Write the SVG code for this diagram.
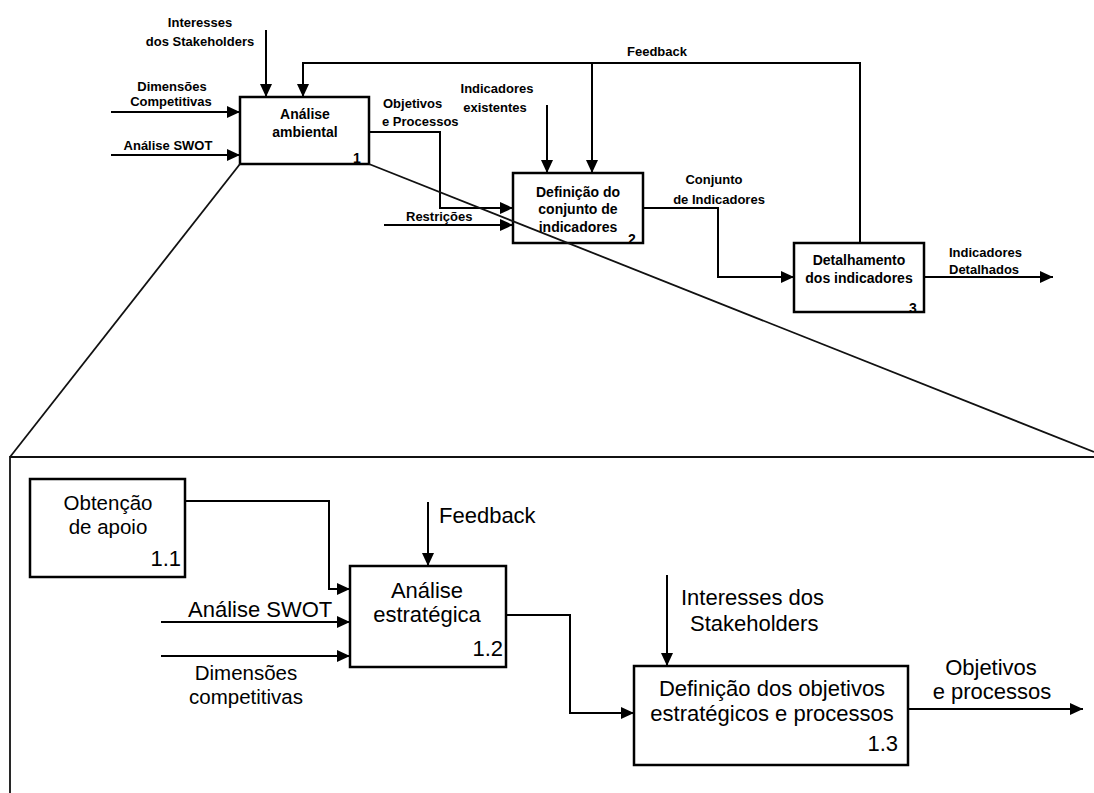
<svg xmlns="http://www.w3.org/2000/svg" width="1094" height="793" viewBox="0 0 1094 793">
  <defs>
    <marker id="arrow" markerUnits="userSpaceOnUse" markerWidth="13" markerHeight="12" viewBox="0 0 13 12" refX="13" refY="6" orient="auto">
      <path d="M0,0 L13,6 L0,12 z" fill="#000"/>
    </marker>
    <style>
      .box { fill: none; stroke: #000; stroke-width: 2.5; }
      .wire { fill: none; stroke: #000; stroke-width: 2; }
      .arr { marker-end: url(#arrow); }
      .zoomline { fill: none; stroke: #111; stroke-width: 1.8; }
      text { font-family: "Liberation Sans", Arial, sans-serif; fill: #000; }
      .tb { font-size: 14px; font-weight: bold; }
      .tl { font-size: 13px; font-weight: bold; }
      .bl { font-size: 22px; }
      .bs { font-size: 20.5px; }
      .mid { text-anchor: middle; }
      .end { text-anchor: end; }
    </style>
  </defs>
  <rect width="1094" height="793" fill="#fff"/>

  <!-- level 0: environmental analysis -->
  <g id="node-1">
    <rect class="box" x="240" y="97" width="129" height="67"/>
    <text class="tb mid" x="305" y="119">Análise</text>
    <text class="tb mid" x="305" y="137">ambiental</text>
    <text class="tb mid" x="357" y="163">1</text>
  </g>
  <g id="node-2">
    <rect class="box" x="513" y="173" width="130" height="70"/>
    <text class="tb mid" x="578" y="197">Definição do</text>
    <text class="tb mid" x="578" y="214">conjunto de</text>
    <text class="tb mid" x="578" y="232">indicadores</text>
    <text class="tb mid" x="632" y="244">2</text>
  </g>
  <g id="node-3">
    <rect class="box" x="794" y="243" width="130" height="69"/>
    <text class="tb mid" x="859" y="265">Detalhamento</text>
    <text class="tb mid" x="859" y="283">dos indicadores</text>
    <text class="tb mid" x="913" y="313">3</text>
  </g>

  <!-- level 1: decomposition of node 1 -->
  <g id="node-1-1">
    <rect class="box" x="30" y="479" width="155" height="98"/>
    <text class="bs mid" x="108" y="510">Obtenção</text>
    <text class="bs mid" x="108" y="534">de apoio</text>
    <text class="bl end" x="181" y="566">1.1</text>
  </g>
  <g id="node-1-2">
    <rect class="box" x="350" y="566" width="156" height="101"/>
    <text class="bl mid" x="427" y="598">Análise</text>
    <text class="bl mid" x="427" y="622">estratégica</text>
    <text class="bl end" x="503" y="656">1.2</text>
  </g>
  <g id="node-1-3">
    <rect class="box" x="634" y="666" width="274" height="99"/>
    <text class="bl mid" x="772" y="696">Definição dos objetivos</text>
    <text class="bl mid" x="772" y="721">estratégicos e processos</text>
    <text class="bl end" x="898" y="751">1.3</text>
  </g>

  <g id="connectors">
    <!-- level 0 flows -->
    <path class="wire arr" d="M266,30 V97"/>
    <path class="wire arr" d="M860,243 V63 H303 V97"/>
    <path class="wire arr" d="M592,63 V173"/>
    <path class="wire arr" d="M111,112 H240"/>
    <path class="wire arr" d="M111,155 H240"/>
    <path class="wire arr" d="M369,132 H440 V208 H513"/>
    <path class="wire arr" d="M547,105 V173"/>
    <path class="wire arr" d="M384,225 H513"/>
    <path class="wire arr" d="M643,208 H718 V277 H794"/>
    <path class="wire arr" d="M924,277 H1053"/>

    <!-- level 1 flows -->
    <path class="wire arr" d="M185,501 H329 V589 H350"/>
    <path class="wire arr" d="M428,502 V566"/>
    <path class="wire arr" d="M161,622 H350"/>
    <path class="wire arr" d="M161,656 H350"/>
    <path class="wire arr" d="M506,615 H570 V713 H634"/>
    <path class="wire arr" d="M667,575 V666"/>
    <path class="wire arr" d="M908,709 H1083"/>

    <!-- detail frame and projection lines -->
    <path class="zoomline" d="M240,164 L10,457"/>
    <path class="zoomline" d="M369,164 L1094,452"/>
    <path class="zoomline" d="M10,793 V457 H1094"/>
  </g>

  <g id="labels">
    <text class="tl mid" x="200" y="27">Interesses</text>
    <text class="tl mid" x="200" y="46">dos Stakeholders</text>
    <text class="tl" x="627" y="56">Feedback</text>
    <text class="tl mid" x="172" y="91">Dimensões</text>
    <text class="tl mid" x="171" y="106">Competitivas</text>
    <text class="tl mid" x="168" y="150">Análise SWOT</text>
    <text class="tl" x="383" y="108">Objetivos</text>
    <text class="tl" x="382" y="126">e Processos</text>
    <text class="tl mid" x="497" y="93">Indicadores</text>
    <text class="tl mid" x="495" y="112">existentes</text>
    <text class="tl" x="406" y="221">Restrições</text>
    <text class="tl mid" x="714" y="184">Conjunto</text>
    <text class="tl mid" x="719" y="204">de Indicadores</text>
    <text class="tl" x="949" y="257">Indicadores</text>
    <text class="tl" x="949" y="274">Detalhados</text>

    <text class="bl" x="439" y="523">Feedback</text>
    <text class="bl" x="188" y="617">Análise SWOT</text>
    <text class="bs mid" x="246" y="680">Dimensões</text>
    <text class="bs mid" x="246" y="704">competitivas</text>
    <text class="bl" x="681" y="605">Interesses dos</text>
    <text class="bl" x="690" y="631">Stakeholders</text>
    <text class="bl mid" x="991" y="675">Objetivos</text>
    <text class="bl mid" x="992" y="699">e processos</text>
  </g>
</svg>
